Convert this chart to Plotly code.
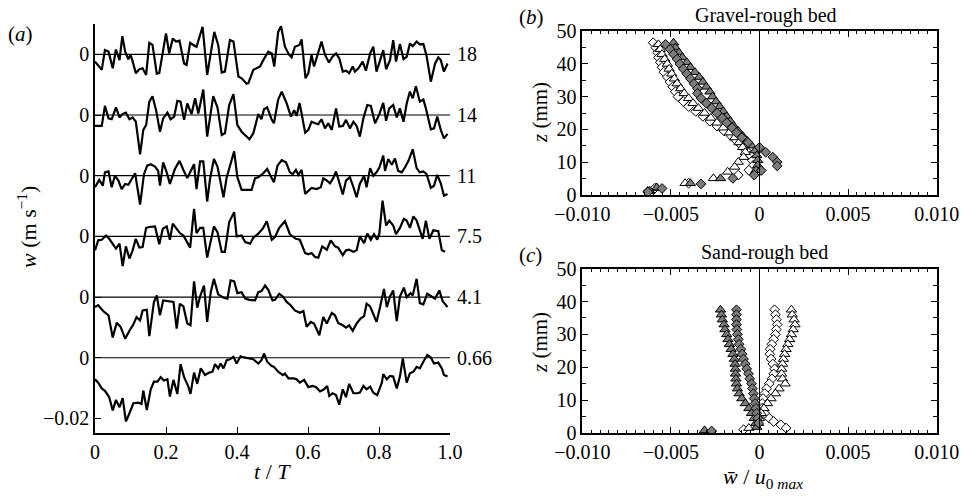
import plotly.graph_objects as go

# ---------------- Panel (a): time series of w at six heights ----------------
heights = ["18", "14", "11", "7.5", "4.1", "0.66"]
offsets = [0.10, 0.08, 0.06, 0.04, 0.02, 0.0]   # vertical offset (m/s) of each trace

# w values in mm/s (1e-3 m/s), t in units of T
t18 = [0.000,0.019,0.028,0.038,0.050,0.059,0.069,0.077,0.085,0.094,0.100,0.105,0.115,0.125,0.134,0.144,0.153,0.162,0.174,0.181,0.200,0.209,0.219,0.228,0.238,0.251,0.258,0.268,0.277,0.286,0.303,0.316,0.336,0.347,0.357,0.366,0.380,0.390,0.404,0.413,0.427,0.432,0.446,0.455,0.465,0.474,0.488,0.498,0.505,0.516,0.524,0.535,0.547,0.554,0.563,0.576,0.582,0.593,0.601,0.610,0.617,0.638,0.648,0.659,0.669,0.679,0.688,0.698,0.707,0.716,0.726,0.732,0.742,0.754,0.763,0.775,0.784,0.793,0.812,0.820,0.831,0.840,0.848,0.859,0.869,0.878,0.887,0.895,0.906,0.915,0.925,0.934,0.946,0.958,0.967,0.974,0.983,0.993]
w18 = [-2.4,-5.1,1.4,0.9,-4.6,1.6,-1.9,6.0,0.9,-1.6,-0.2,-1.9,-6.2,-4.9,-4.6,-6.8,3.8,3.1,-6.4,-6.2,6.9,0.3,5.2,4.2,4.5,-3.0,-3.5,3.8,3.1,2.5,9.1,-6.8,7.4,3.1,-6.0,-5.7,4.7,4.2,-7.3,-7.9,-9.7,-9.5,-5.1,-4.6,-4.0,-1.9,0.9,0.3,-4.0,7.4,9.3,2.5,-0.2,-1.0,2.5,3.1,4.9,-7.9,-6.2,-0.2,-4.0,4.2,-0.2,-2.7,-0.8,0.3,-1.3,-5.7,-5.4,-6.2,-4.0,-5.7,-4.6,-2.4,-5.4,0.3,2.5,-5.7,1.4,-4.9,-1.9,4.7,-2.4,3.4,-1.6,-0.8,3.6,2.7,4.2,3.3,3.4,-0.5,-9.0,-3.0,-1.0,-1.9,-5.7,-3.0]

t14 = [0.000,0.019,0.028,0.038,0.047,0.059,0.069,0.077,0.087,0.097,0.106,0.115,0.127,0.136,0.144,0.153,0.162,0.172,0.183,0.192,0.204,0.213,0.223,0.232,0.241,0.251,0.260,0.272,0.282,0.291,0.305,0.316,0.333,0.345,0.357,0.366,0.378,0.390,0.401,0.413,0.427,0.435,0.446,0.460,0.469,0.476,0.485,0.498,0.504,0.516,0.526,0.540,0.552,0.561,0.568,0.576,0.582,0.592,0.601,0.610,0.620,0.629,0.638,0.648,0.657,0.667,0.679,0.688,0.698,0.707,0.718,0.728,0.737,0.746,0.756,0.767,0.777,0.789,0.801,0.812,0.820,0.829,0.840,0.850,0.859,0.869,0.878,0.887,0.895,0.904,0.915,0.925,0.932,0.946,0.955,0.964,0.974,0.983,0.993]
w14 = [-3.6,-3.6,3.0,-1.1,-1.4,2.5,-0.8,0.3,0.8,-1.4,-0.8,-2.2,-13.0,-4.9,-3.3,4.4,6.2,1.6,-5.5,-1.1,0.8,-1.4,-0.5,4.7,4.4,-1.6,3.8,0.3,5.5,0.5,8.4,-7.1,6.2,2.5,-6.6,-6.0,3.3,6.9,-3.3,-5.5,-7.1,-8.0,-6.0,0.3,-1.4,1.9,2.5,-1.6,-2.7,5.1,7.7,3.8,-0.5,1.6,-0.3,4.0,0.5,-5.8,-4.9,-2.2,-2.7,-3.0,-1.4,-4.4,-2.7,-4.9,2.2,-3.8,-3.6,-1.6,-4.4,-2.2,-3.6,-7.1,-1.1,3.3,3.0,-2.7,0.3,4.0,-1.9,2.2,3.3,-0.8,2.2,-2.2,3.8,7.7,5.5,9.5,4.4,5.1,2.2,-4.7,-4.4,-0.5,-4.9,-7.7,-6.2]

t11 = [0.000,0.007,0.012,0.022,0.028,0.038,0.047,0.056,0.066,0.075,0.085,0.094,0.103,0.113,0.127,0.138,0.147,0.157,0.169,0.178,0.183,0.192,0.202,0.211,0.225,0.238,0.249,0.260,0.269,0.279,0.286,0.296,0.305,0.316,0.324,0.335,0.345,0.362,0.371,0.382,0.392,0.401,0.413,0.423,0.441,0.451,0.460,0.474,0.485,0.498,0.504,0.514,0.526,0.538,0.549,0.557,0.566,0.573,0.582,0.592,0.601,0.610,0.624,0.636,0.643,0.651,0.662,0.671,0.679,0.690,0.698,0.707,0.718,0.728,0.737,0.746,0.758,0.765,0.775,0.784,0.793,0.801,0.812,0.817,0.826,0.836,0.845,0.854,0.864,0.873,0.883,0.895,0.906,0.915,0.925,0.934,0.946,0.955,0.964,0.974,0.983,0.993]
w11 = [-3.8,-2.2,-1.4,-3.3,1.1,1.4,-3.8,0.0,-1.6,-4.4,-2.7,-3.0,-1.1,0.8,-9.5,0.5,3.3,3.8,3.0,1.6,-3.3,4.4,1.1,-2.7,2.2,4.9,1.9,-0.8,1.4,3.8,-4.4,4.7,4.7,-8.5,-1.1,5.5,3.0,-7.1,-0.5,4.4,8.0,-0.5,-4.7,-4.7,-4.7,-0.8,-0.5,0.8,2.2,-0.8,-2.2,3.3,5.1,4.4,1.1,0.5,1.9,0.3,1.9,-6.0,-4.9,-4.0,-4.4,-3.8,-0.9,-1.4,-2.5,-0.8,1.4,-2.7,-6.2,-1.6,-0.5,-3.8,-7.1,-2.7,0.0,-3.8,2.5,0.0,1.1,2.7,6.6,1.6,5.5,3.6,5.7,1.6,1.1,2.7,4.9,8.7,2.5,1.1,1.4,0.5,-4.0,-3.3,0.3,-2.5,-6.6,-6.0]

t75 = [0.000,0.009,0.019,0.031,0.040,0.050,0.059,0.069,0.078,0.087,0.097,0.106,0.115,0.125,0.134,0.144,0.153,0.169,0.181,0.191,0.202,0.211,0.219,0.228,0.239,0.249,0.258,0.268,0.279,0.286,0.296,0.305,0.316,0.326,0.335,0.345,0.357,0.366,0.378,0.392,0.399,0.413,0.423,0.437,0.446,0.460,0.474,0.484,0.498,0.507,0.519,0.535,0.549,0.566,0.577,0.592,0.601,0.610,0.620,0.629,0.640,0.653,0.664,0.676,0.685,0.698,0.707,0.716,0.728,0.737,0.746,0.758,0.767,0.777,0.786,0.795,0.801,0.810,0.820,0.829,0.840,0.848,0.859,0.870,0.878,0.887,0.897,0.906,0.915,0.923,0.932,0.942,0.953,0.967,0.977,0.986]
w75 = [-4.6,-1.3,-1.1,0.3,-0.8,-2.4,-4.0,-2.4,-9.8,-3.3,-7.3,-4.6,-0.8,-3.7,-3.5,2.8,3.1,3.3,-2.6,2.5,3.3,-1.1,4.2,2.8,1.1,0.3,-1.5,-3.7,9.1,1.1,2.8,2.8,-7.0,-1.3,3.3,1.4,-5.1,-5.1,4.7,8.0,0.0,0.3,-1.9,-2.4,-0.4,0.9,2.8,5.0,-1.1,-0.2,2.8,5.0,0.7,-0.8,-1.1,-5.5,-5.9,-5.5,-6.8,-7.0,-3.3,-4.4,-1.3,-3.3,-3.7,-6.2,-4.6,-4.4,-5.1,-4.6,0.0,-2.2,0.9,-1.1,0.7,-1.1,0.9,11.8,3.6,5.2,3.6,0.7,2.8,5.8,5.2,2.8,6.6,5.2,1.7,-0.8,5.2,-0.8,2.0,1.7,-4.6,-5.1]

t41 = [0.000,0.009,0.023,0.038,0.050,0.061,0.072,0.085,0.097,0.108,0.117,0.127,0.134,0.146,0.153,0.166,0.174,0.183,0.192,0.207,0.221,0.230,0.239,0.249,0.260,0.269,0.279,0.288,0.296,0.307,0.316,0.326,0.335,0.347,0.362,0.373,0.382,0.392,0.401,0.413,0.423,0.435,0.451,0.460,0.469,0.479,0.488,0.500,0.507,0.519,0.529,0.540,0.551,0.563,0.577,0.587,0.596,0.608,0.617,0.632,0.643,0.653,0.667,0.676,0.685,0.698,0.707,0.716,0.726,0.737,0.748,0.758,0.765,0.775,0.784,0.793,0.803,0.814,0.822,0.831,0.840,0.850,0.859,0.870,0.878,0.889,0.895,0.906,0.915,0.925,0.936,0.948,0.958,0.970,0.979,0.993]
w41 = [-3.3,-2.7,-4.6,-6.0,-13.3,-8.5,-9.8,-13.7,-11.1,-9.0,-6.6,-7.7,-4.4,-4.2,-12.9,-1.6,0.5,-6.0,-1.1,-1.3,-1.6,-10.4,-2.2,-3.1,-8.7,-9.3,5.2,-3.5,0.2,3.8,-8.2,1.6,6.0,0.9,-0.2,-0.5,5.5,5.2,1.3,1.6,-0.5,-0.9,-1.1,1.6,2.0,3.8,2.4,-1.1,-0.9,1.1,0.2,-1.6,-2.7,-4.4,-5.2,-4.6,-9.8,-8.2,-8.7,-12.6,-6.6,-8.7,-5.2,-6.0,-8.5,-9.3,-10.1,-9.3,-11.1,-8.7,-7.1,-6.3,-2.2,-3.1,-5.7,-8.2,-3.3,2.7,-3.3,0.2,2.2,-7.9,0.2,3.1,0.0,1.3,0.5,6.0,-2.0,-2.4,1.1,0.2,-0.5,2.2,-1.3,-3.3]

t066 = [0.000,0.009,0.019,0.028,0.040,0.050,0.059,0.069,0.078,0.087,0.097,0.108,0.122,0.131,0.136,0.146,0.157,0.166,0.176,0.185,0.194,0.204,0.211,0.221,0.232,0.241,0.251,0.263,0.269,0.279,0.288,0.298,0.310,0.322,0.331,0.338,0.347,0.354,0.362,0.371,0.380,0.390,0.399,0.410,0.420,0.432,0.446,0.460,0.469,0.476,0.485,0.498,0.504,0.516,0.529,0.535,0.545,0.559,0.568,0.577,0.589,0.601,0.613,0.623,0.634,0.645,0.654,0.660,0.669,0.679,0.688,0.698,0.707,0.716,0.728,0.739,0.746,0.756,0.765,0.775,0.784,0.795,0.808,0.812,0.822,0.831,0.840,0.850,0.859,0.867,0.878,0.887,0.897,0.906,0.915,0.925,0.936,0.946,0.955,0.967,0.977,0.983,0.993]
w066 = [-7.1,-8.2,-10.1,-10.9,-13.0,-17.4,-13.9,-16.3,-13.3,-21.0,-18.3,-15.0,-14.8,-15.2,-10.8,-17.2,-10.4,-7.9,-7.9,-6.4,-7.5,-7.1,-12.8,-7.3,-11.9,-2.1,-6.4,-9.5,-11.9,-4.9,-8.6,-3.5,-5.7,-4.9,-4.6,-2.1,-3.5,-1.9,-3.5,-0.8,-0.5,0.3,-1.9,0.5,0.1,-0.2,-0.5,-1.9,-0.8,1.4,-1.3,-2.7,-3.0,-4.6,-5.7,-5.2,-6.8,-6.8,-7.1,-8.2,-7.3,-9.7,-9.3,-9.7,-11.1,-10.4,-9.3,-12.6,-11.7,-12.3,-15.5,-10.4,-13.0,-8.6,-11.7,-11.7,-11.5,-9.3,-10.4,-9.5,-11.5,-12.3,-8.2,-5.4,-7.1,-6.0,-6.2,-10.1,-6.2,-0.2,-8.2,-5.1,-4.6,-3.0,-3.5,-1.3,0.9,0.1,-1.9,-1.6,-3.5,-5.7,-6.2]

series_t = [t18, t14, t11, t75, t41, t066]
series_w = [w18, w14, w11, w75, w41, w066]

a_xticks = [0, 0.2, 0.4, 0.6, 0.8, 1.0]
a_xticktext = ["0", "0.2", "0.4", "0.6", "0.8", "1.0"]
a_yticks = [-0.02, 0.0, 0.02, 0.04, 0.06, 0.08, 0.10]
a_yticktext = ["\u22120.02", "0", "0", "0", "0", "0", "0"]

# ---------------- Panel (b): Gravel-rough bed (x in 1e-3, z in mm) ----------------
b_od_z = [46.5,45,43.5,42,40.5,39,37.5,36,34.5,33,31.5,30,28.5,27,25.5,24,22.5,21,19.5,18,16.5,15,13.5,12,10.5,9,7.5,6,3.5,2,1]
b_od_x = [-6.0,-5.85,-5.75,-5.7,-5.6,-5.5,-5.4,-5.2,-5.05,-4.9,-4.75,-4.6,-4.3,-4.0,-3.6,-3.2,-2.8,-2.4,-2.0,-1.6,-1.3,-1.0,-0.75,-0.5,-0.4,-0.35,-0.6,-1.2,-4.0,-5.9,-6.3]
b_ot_z = [46,44.5,43,41.5,40,38.5,37,35.5,34,32.5,31,29.5,28,26.5,25,23.5,22,20.5,19,17.5,16,14.5,13,11.5,10,8.5,7,5,3.5,2,1]
b_ot_x = [-5.7,-5.6,-5.5,-5.35,-5.2,-5.1,-4.95,-4.8,-4.65,-4.45,-4.25,-4.0,-3.75,-3.45,-3.1,-2.75,-2.4,-2.05,-1.7,-1.4,-1.15,-0.95,-0.8,-0.9,-1.2,-1.4,-1.8,-2.6,-4.2,-5.8,-6.2]
b_gt_z = [46.5,45,43.5,42,40.5,39,37.5,36,34.5,33,31.5,30,28.5,27,25.5,24,22.5,21,19.5,18,16.5,15,13.5,12,10.5,9,7.5,5,3.5,2.2,1.2]
b_gt_x = [-4.85,-4.75,-4.55,-4.35,-4.1,-3.9,-3.65,-3.4,-3.2,-3.0,-2.8,-2.65,-2.45,-2.25,-2.05,-1.85,-1.65,-1.45,-1.2,-0.95,-0.7,-0.45,-0.25,-0.15,-0.1,-0.1,-0.2,-2.2,-3.9,-5.8,-6.2]
b_gd_z = [46,44.5,43,41.5,40,38.5,37,35.5,34,32.5,31,29.5,28,26.5,25,23.5,22,20.5,19,17.5,16,14.5,13,11.5,10,8.8,7.4,6,5,3.3,1.9,0.8]
b_gd_x = [-5.3,-5.05,-4.85,-4.65,-4.5,-4.3,-4.1,-3.9,-3.7,-3.5,-3.5,-3.3,-3.0,-2.7,-2.4,-2.1,-1.85,-1.55,-1.3,-1.0,-0.65,0.0,0.35,0.75,1.0,1.0,0.1,-0.3,-1.5,-3.3,-5.5,-6.3]

# ---------------- Panel (c): Sand-rough bed ----------------
c_gt_z = [37.5,36,34.5,33,31.5,30,28.5,27,25.5,24,22.5,21,19.5,18,16.5,15,13.5,12,10.5,9,7.5,6,4.5,3,1.8,0.8]
c_gt_x = [-2.2,-2.15,-2.1,-2.0,-1.95,-1.85,-1.78,-1.7,-1.6,-1.5,-1.42,-1.38,-1.36,-1.35,-1.33,-1.3,-1.25,-1.15,-1.0,-0.8,-0.6,-0.45,-0.3,-0.2,-0.15,-3.1]
c_gd_z = [37.5,36,34.5,33,31.5,30,28.5,27,25.5,24,22.5,21,19.5,18,16.5,15,13.5,12,10.5,9,7.5,6,4.5,3,0.6]
c_gd_x = [-1.3,-1.3,-1.3,-1.3,-1.28,-1.25,-1.2,-1.15,-1.05,-0.98,-0.9,-0.8,-0.72,-0.62,-0.55,-0.45,-0.4,-0.35,-0.3,-0.25,-0.2,-0.15,-0.1,-0.05,-2.7]
c_od_z = [37.5,36,34.5,33,31.5,30,28.5,27,25.5,24,22.5,21,19.5,18,16.5,15,13.5,12,10.5,9,7.5,6,4.5,3.5,2.5,1.5,1.0]
c_od_x = [0.85,0.9,0.95,1.0,0.95,0.9,0.8,0.7,0.6,0.58,0.65,0.75,0.85,0.8,0.7,0.55,0.4,0.3,0.2,0.15,0.15,0.3,0.55,0.8,1.2,1.5,-0.9]
c_ot_z = [37.5,36,34.5,33,31.5,30,28.5,27,25.5,24,22.5,21,19.5,18,16.5,15,13.5,12,10.5,9,7.5,6,4.5,3,1.5]
c_ot_x = [1.8,1.85,1.95,2.0,1.9,1.8,1.7,1.6,1.5,1.42,1.35,1.3,1.25,1.25,1.3,1.45,1.1,0.9,0.65,0.45,0.25,0.1,0.0,-0.05,-0.6]

bc_xticks = [-0.01, -0.005, 0, 0.005, 0.01]
bc_xticktext = ["\u22120.010", "\u22120.005", "0", "0.005", "0.010"]
bc_yticks = [0, 10, 20, 30, 40, 50]

FONT = "'Liberation Serif', 'Times New Roman', serif"
GRAY = "#7b7b7b"
W, H = 966, 496

fig = go.Figure()

# panel (a)
for off in offsets:
    fig.add_trace(go.Scatter(x=[0, 1], y=[off, off], mode="lines",
                             line=dict(color="black", width=1.2),
                             xaxis="x", yaxis="y", hoverinfo="skip", showlegend=False))
for tt, ww, off in zip(series_t, series_w, offsets):
    fig.add_trace(go.Scatter(x=tt, y=[v * 1e-3 + off for v in ww], mode="lines",
                             line=dict(color="black", width=2.2),
                             xaxis="x", yaxis="y", showlegend=False))

def add_markers(xs, zs, symbol, fill, size, xa, ya):
    fig.add_trace(go.Scatter(x=[v * 1e-3 for v in xs], y=zs, mode="markers",
                             marker=dict(symbol=symbol, size=size, color=fill,
                                         line=dict(color="black", width=1)),
                             xaxis=xa, yaxis=ya, showlegend=False))

# panel (b)
add_markers(b_od_x, b_od_z, "diamond", "white", 7.5, "x2", "y2")
add_markers(b_ot_x, b_ot_z, "triangle-up", "white", 9, "x2", "y2")
add_markers(b_gt_x, b_gt_z, "triangle-up", GRAY, 9, "x2", "y2")
add_markers(b_gd_x, b_gd_z, "diamond", GRAY, 7.5, "x2", "y2")
# panel (c)
add_markers(c_od_x, c_od_z, "diamond", "white", 7.5, "x3", "y3")
add_markers(c_ot_x, c_ot_z, "triangle-up", "white", 9, "x3", "y3")
add_markers(c_gt_x, c_gt_z, "triangle-up", GRAY, 9, "x3", "y3")
add_markers(c_gd_x, c_gd_z, "diamond", GRAY, 7.5, "x3", "y3")

tickfont = dict(family=FONT, size=20, color="black")
a_dom_x = [95 / W, 450 / W]
a_dom_y = [1 - 433 / H, 1 - 24 / H]
bc_dom_x = [582.3 / W, 936.7 / W]
b_dom_y = [1 - 194.7 / H, 1 - 31.3 / H]
c_dom_y = [1 - 433 / H, 1 - 268.7 / H]

box_x = dict(range=[-0.01, 0.01], tickvals=bc_xticks, ticktext=bc_xticktext,
             ticks="inside", ticklen=6, tickwidth=1.2, tickcolor="black",
             showline=True, linecolor="black", linewidth=1.8, mirror="ticks",
             showgrid=False, zeroline=False, tickfont=tickfont, automargin=False,
             minor=dict(dtick=0.0005, tick0=0, ticks="inside", ticklen=3,
                        tickcolor="black", tickwidth=1, showgrid=False))
box_y = dict(range=[0, 50], tickvals=bc_yticks,
             ticks="inside", ticklen=6, tickwidth=1.2, tickcolor="black",
             showline=True, linecolor="black", linewidth=1.8, mirror="ticks",
             showgrid=False, zeroline=False, tickfont=tickfont, automargin=False,
             minor=dict(dtick=5, tick0=0, ticks="inside", ticklen=4,
                        tickcolor="black", tickwidth=1, showgrid=False))

fig.update_layout(
    template="none",
    width=W, height=H, autosize=False,
    margin=dict(l=0, r=0, t=0, b=0, pad=0, autoexpand=False),
    paper_bgcolor="white", plot_bgcolor="white",
    font=dict(family=FONT, color="black"),
    xaxis=dict(domain=a_dom_x, anchor="y", range=[0, 1.0], tickvals=a_xticks,
               ticktext=a_xticktext, ticks="inside", ticklen=6, tickwidth=1.2,
               tickcolor="black", showline=True, linecolor="black", linewidth=1.5,
               showgrid=False, zeroline=False, tickfont=tickfont, automargin=False),
    yaxis=dict(domain=a_dom_y, anchor="x", range=[-0.0248, 0.110], tickvals=a_yticks,
               ticktext=a_yticktext, ticks="inside", ticklen=6, tickwidth=1.2,
               tickcolor="black", showline=True, linecolor="black", linewidth=1.5,
               showgrid=False, zeroline=False, tickfont=tickfont, automargin=False),
    xaxis2=dict(domain=bc_dom_x, anchor="y2", **box_x),
    yaxis2=dict(domain=b_dom_y, anchor="x2", **box_y),
    xaxis3=dict(domain=bc_dom_x, anchor="y3", **box_x),
    yaxis3=dict(domain=c_dom_y, anchor="x3", **box_y),
    shapes=[
        dict(type="line", xref="x2", yref="y2 domain", x0=0, x1=0, y0=0, y1=1,
             line=dict(color="black", width=1)),
        dict(type="line", xref="x3", yref="y3 domain", x0=0, x1=0, y0=0, y1=1,
             line=dict(color="black", width=1)),
    ],
)

ann = []
for h, off in zip(heights, offsets):
    ann.append(dict(x=1.0, y=off, xref="x", yref="y", text=h, showarrow=False,
                    xanchor="left", yanchor="middle", xshift=5,
                    font=dict(family=FONT, size=20)))

def pap(text, px, py, size, xanchor="center", angle=0):
    ann.append(dict(x=px / W, y=1 - py / H, xref="paper", yref="paper", text=text,
                    showarrow=False, xanchor=xanchor, yanchor="middle",
                    textangle=angle, font=dict(family=FONT, size=size)))

pap("(<i>a</i>)", 6, 34, 21, xanchor="left")
pap("(<i>b</i>)", 517, 17, 21, xanchor="left")
pap("(<i>c</i>)", 517, 255, 21, xanchor="left")
pap("Gravel-rough bed", 766, 15, 20)
pap("Sand-rough bed", 764, 252, 20)
pap("<i>z</i> (mm)", 540, 113, 21, angle=-90)
pap("<i>z</i> (mm)", 540, 343, 21, angle=-90)
pap("<i>w</i> (m s<sup>\u22121</sup>)", 27, 227, 22, angle=-90)
pap("<i>t</i> / <i>T</i>", 272, 471, 22)
pap("<i>w\u0304</i> / <i>u</i><sub>0 <i>max</i></sub>", 763, 478, 22)
fig.update_layout(annotations=ann)

fig.write_html("out.html", config={"displayModeBar": False},
               post_script="document.body.style.margin='0px';document.body.style.padding='0px';")
